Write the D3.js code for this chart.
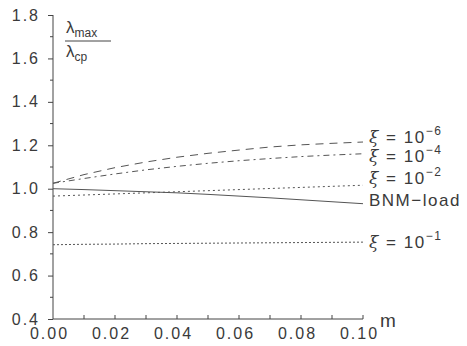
<!DOCTYPE html>
<html><head><meta charset="utf-8">
<script src="https://cdn.jsdelivr.net/npm/d3@7"></script>
<style>
body{margin:0;background:#fff;}
text{font-family:"Liberation Sans",Arial,sans-serif;fill:#3a3a3a;}
</style></head>
<body><svg id="c" width="467" height="346"></svg>
<script>
const mValues = [0,0.01,0.02,0.03,0.04,0.05,0.06,0.07,0.08,0.09,0.10];
const xi1e6 = [1.025,1.065,1.097,1.123,1.145,1.163,1.178,1.192,1.202,1.209,1.215];
const xi1e4 = [1.025,1.047,1.068,1.087,1.103,1.117,1.129,1.139,1.148,1.155,1.161];
const xi1e2 = [0.966,0.971,0.976,0.981,0.986,0.991,0.996,1.001,1.006,1.011,1.016];
const bnm   = [1.000,0.996,0.991,0.986,0.981,0.974,0.966,0.958,0.949,0.940,0.931];
const xi1e1 = [0.742,0.744,0.745,0.747,0.748,0.749,0.750,0.751,0.752,0.753,0.754];
const yTicks = [0.4,0.6,0.8,1.0,1.2,1.4,1.6,1.8];
const xTicks = [0.00,0.02,0.04,0.06,0.08,0.10];
const seriesNames = ["ξ = 10", "ξ = 10", "ξ = 10", "BNM\u2212load", "ξ = 10"];
const seriesExps = ["\u22126","\u22124","\u22122","","\u22121"];

const svg = d3.select("#c");
const x = d3.scaleLinear().domain([0,0.1]).range([53,363]);
const y = d3.scaleLinear().domain([0.4,1.8]).range([319,15]);

const ink = "#444";
// axes
const yAxis = d3.axisLeft(y).tickValues(yTicks).tickFormat(d3.format(".1f")).tickSize(5).tickPadding(8);
const gy = svg.append("g").attr("transform","translate(53,0)").call(yAxis);
gy.select(".domain").attr("stroke",ink).attr("d","M0,"+y(1.8)+"V"+y(0.4));
gy.selectAll(".tick line").attr("stroke",ink);
gy.selectAll(".tick text").style("font-size","16px").style("letter-spacing","2px").attr("fill","#444");
// minor y ticks
svg.append("g").selectAll("line").data(d3.range(0.5,1.8,0.2)).join("line")
  .attr("x1",53).attr("x2",50).attr("y1",d=>y(d)).attr("y2",d=>y(d)).attr("stroke",ink);

const xAxis = d3.axisBottom(x).tickValues(xTicks).tickFormat(d3.format(".2f")).tickSize(0).tickPadding(9);
const gx = svg.append("g").attr("transform","translate(0,319)").call(xAxis);
gx.select(".domain").attr("stroke",ink).attr("d","M"+x(0)+",0H"+x(0.1));
gx.selectAll(".tick text").style("font-size","16px").style("letter-spacing","2px").attr("fill","#444").attr("dx","-4");
// x ticks pointing upward
svg.append("g").selectAll("line").data(d3.range(0.01,0.1001,0.01)).join("line")
  .attr("x1",d=>x(d)).attr("x2",d=>x(d)).attr("y1",319).attr("y2",315).attr("stroke",ink);

svg.append("text").attr("x",380).attr("y",327).style("font-size","19px").text("m");

// y label fraction
const yl = svg.append("g");
yl.append("text").attr("x",66).attr("y",33).style("font-size","17px").text("λ")
  .append("tspan").attr("dy",4).style("font-size","12px").text("max");
yl.append("line").attr("x1",65).attr("x2",111).attr("y1",41).attr("y2",41).attr("stroke",ink);
yl.append("text").attr("x",66).attr("y",57).style("font-size","17px").text("λ")
  .append("tspan").attr("dy",4).style("font-size","12px").text("cp");

// series
const all = [xi1e6, xi1e4, xi1e2, bnm, xi1e1];
const dashes = ["8,6","6,4,2,4","2,3",null,"2,2"];
const line = d3.line().x((d,i)=>x(mValues[i])).y(d=>y(d));
svg.append("g").selectAll("path").data(all).join("path")
  .attr("d",d=>line(d)).attr("fill","none").attr("stroke","#555").attr("stroke-width",1)
  .attr("stroke-dasharray",(d,i)=>dashes[i]);

// labels
const labelY = [137,156,178,200,242];
const lg = svg.append("g");
all.forEach((s,i)=>{
  const t = lg.append("text").attr("x",369).attr("y",labelY[i]+6).style("font-size","17px").style("letter-spacing","1.5px");
  if (i===3){ t.style("letter-spacing","1.5px").text(seriesNames[i]); }
  else {
    t.append("tspan").style("font-family","'DejaVu Serif',serif").style("font-style","italic").text("ξ");
    t.append("tspan").text(" = 10");
    t.append("tspan").attr("dy",-8).style("font-size","12px").text(seriesExps[i]);
  }
});
</script></body></html>
